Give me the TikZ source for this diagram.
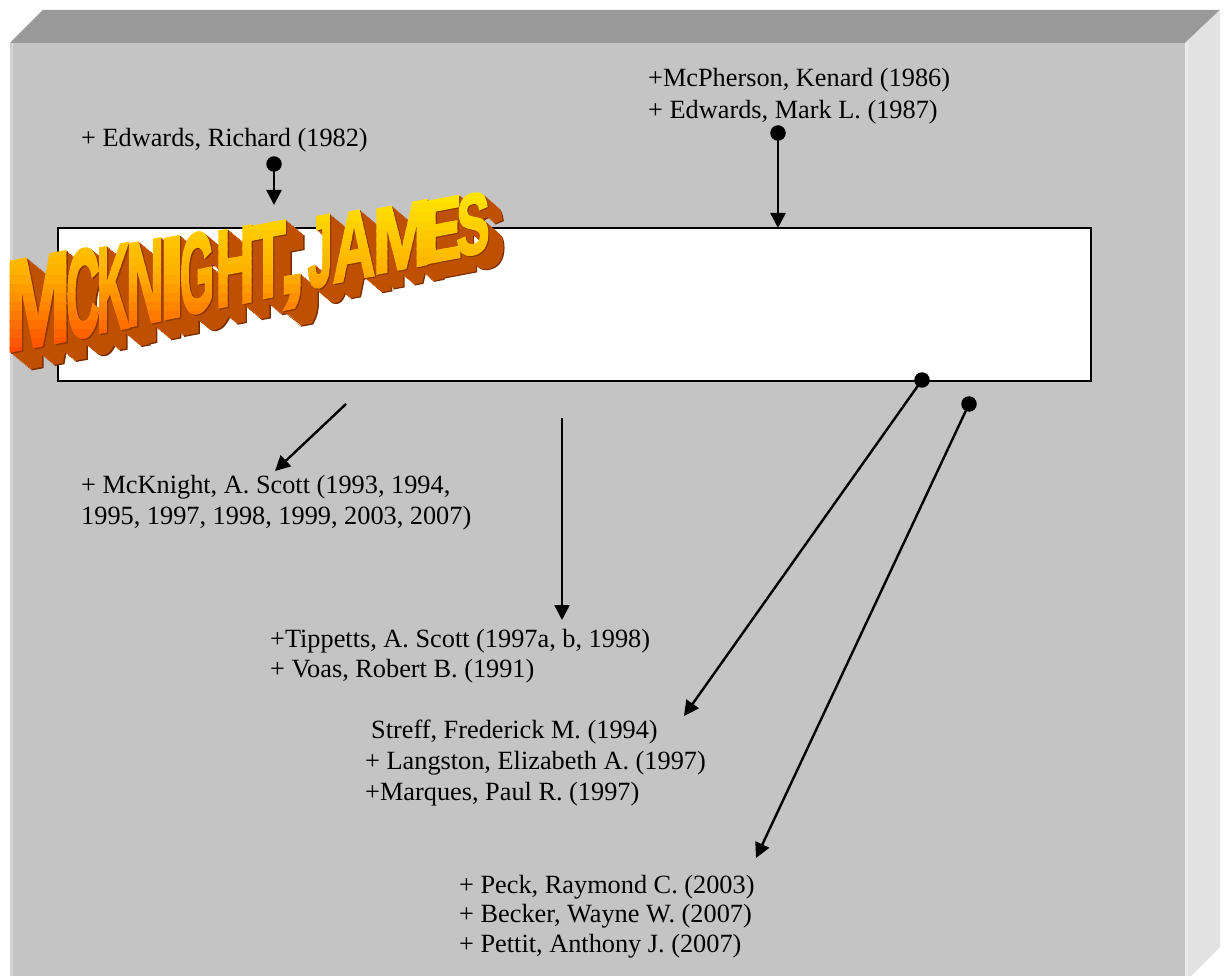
\documentclass[tikz,border=0pt]{standalone}
\usepackage{fontspec}
\setmainfont{Liberation Serif}
\newfontfamily\ttlfont{Liberation Sans}[BoldFeatures={FakeBold=3}]
\usetikzlibrary{arrows.meta}
\definecolor{frontgray}{HTML}{C4C4C4}
\definecolor{topgray}{HTML}{999999}
\definecolor{sidegray}{HTML}{E2E2E2}
\definecolor{edgelight}{HTML}{D2D2D2}
\definecolor{edgeside}{HTML}{EBEBEB}
\definecolor{extr}{HTML}{BE5000}
\definecolor{extrdark}{HTML}{7A2E00}
\definecolor{extredge}{HTML}{8E3800}
\definecolor{ttlyel}{HTML}{FFE800}
\definecolor{ttlmid}{HTML}{FFAE00}
\definecolor{ttlred}{HTML}{FF4000}
\tikzset{
  lbl/.style={anchor=base west, inner sep=0pt, font=\fontsize{26.3}{31}\selectfont},
  dotn/.style={circle, fill=black, inner sep=0pt, minimum size=15.5pt},
  arr/.style={line width=2.4pt, -{Triangle[length=15pt,width=15pt]}},
  mainbox/.style={draw=black, fill=white, line width=2pt, inner sep=0pt, anchor=north west},
  ttlletter/.style={anchor=base, inner sep=0pt, transform shape, font=\ttlfont\bfseries\fontsize{100}{100}\selectfont},
}
\def\ttlk{0}
% #1 centre x, #2 character, #3 target width, #4 natural width at 100pt, #5 style
\newcommand\ttlchar[5]{%
  \pgfmathsetmacro\tT{(#1-7)/483}%
  \pgfmathsetmacro\tS{(94-34*\tT)/71.6}%
  \pgfmathsetmacro\tB{352-102*\tT}%
  \pgfmathsetmacro\tX{0.9*#3/(#4*\tS)}%
  \pgfmathsetmacro\tDX{\ttlk*(22-6*\tT)}%
  \pgfmathsetmacro\tDY{\ttlk*(18-4*\tT)}%
  \begin{scope}[shift={(#1+\tDX,\tB+\tDY)}, yslant=0.19, xscale=\tX, scale=\tS]
    \node[ttlletter,#5] {#2};
  \end{scope}}
\newcommand\ttlword[1]{%
  \ttlchar{38}{M}{63}{73}{#1}%
  \ttlchar{83}{C}{33}{64}{#1}%
  \ttlchar{113}{K}{34}{68}{#1}%
  \ttlchar{145}{N}{36}{62}{#1}%
  \ttlchar{172}{I}{17}{17}{#1}%
  \ttlchar{197}{G}{33}{68}{#1}%
  \ttlchar{235}{H}{36}{60}{#1}%
  \ttlchar{268}{T}{37}{58}{#1}%
  \ttlchar{292}{,}{13}{12}{#1}%
  \ttlchar{320}{J}{23}{47}{#1}%
  \ttlchar{354}{A}{47}{72}{#1}%
  \ttlchar{402}{M}{57}{73}{#1}%
  \ttlchar{442}{E}{37}{56}{#1}%
  \ttlchar{473}{S}{33}{60}{#1}}
\begin{document}
\begin{tikzpicture}[x=1pt,y=-1pt]
  \useasboundingbox (0,0) rectangle (1224,976);
  \clip (0,0) rectangle (1224,976);
  % 3D board
  \fill[frontgray] (10,43) rectangle (1185,980);
  \fill[topgray] (10,43) -- (43,10) -- (1220,10) -- (1185,43) -- cycle;
  \fill[sidegray] (1185,43) -- (1220,10) -- (1220,947) -- (1185,982) -- cycle;
  \fill[edgelight] (10,43) rectangle (13,980);
  \fill[edgeside] (1185,43) rectangle (1188,980);
  % white box
  \node[mainbox, minimum width=1033pt, minimum height=153pt] (mainrect) at (57,227) {};
  % title extrusion
  \foreach \kk in {14,...,1} {
    \pgfmathsetmacro\ttlk{\kk/14}
    \ifnum\kk=14 \def\ttlcol{extrdark}\else
      \ifnum\kk=1 \def\ttlcol{extredge}\else \def\ttlcol{extr}\fi\fi
    \ttlword{text=\ttlcol}
  }
  % title front faces: vertical gradient built from clipped bands
  \foreach \bj in {0,...,19} {
    \pgfmathsetmacro\bya{186+\bj*9}
    \pgfmathsetmacro\byb{\bya+9.6}
    \pgfmathsetmacro\bpa{min(100,\bj*200/19)}
    \pgfmathsetmacro\bpb{max(0,\bj*200/19-100)}
    \colorlet{bandc}{ttlmid!\bpa!ttlyel}
    \colorlet{bandc}{ttlred!\bpb!bandc}
    \begin{scope}
      \clip (0,\bya) rectangle (530,\byb);
      \ttlword{text=bandc}
    \end{scope}
  }
  % labels
  \node[lbl] (edw) at (81,147) {+ Edwards, Richard (1982)};
  \node[lbl] (mcp1) at (648,87) {+McPherson, Kenard (1986)};
  \node[lbl] (mcp2) at (648,119) {+ Edwards, Mark L. (1987)};
  \node[lbl] (mck1) at (81,493) {+ McKnight, A. Scott (1993, 1994,};
  \node[lbl] (mck2) at (81,524) {1995, 1997, 1998, 1999, 2003, 2007)};
  \node[lbl] (tip1) at (270,647) {+Tippetts, A. Scott (1997a, b, 1998)};
  \node[lbl] (tip2) at (270,677) {+ Voas, Robert B. (1991)};
  \node[lbl] (str1) at (371,738) {Streff, Frederick M. (1994)};
  \node[lbl] (str2) at (365,769) {+ Langston, Elizabeth A. (1997)};
  \node[lbl] (str3) at (365,800) {+Marques, Paul R. (1997)};
  \node[lbl] (pk1) at (459,893) {+ Peck, Raymond C. (2003)};
  \node[lbl] (pk2) at (459,922) {+ Becker, Wayne W. (2007)};
  \node[lbl] (pk3) at (459,952) {+ Pettit, Anthony J. (2007)};
  % dots and arrow ends
  \node[dotn] (d1) at (274,164) {};
  \node[dotn] (d2) at (778,133) {};
  \node[dotn] (d5) at (922,380) {};
  \node[dotn] (d6) at (969,404) {};
  \coordinate (t1) at (274,205);
  \coordinate (t2) at (778,228);
  \coordinate (s3) at (346,404);
  \coordinate (t3) at (275,471);
  \coordinate (s4) at (562,418);
  \coordinate (t4) at (562,620);
  \coordinate (t5) at (684,716);
  \coordinate (t6) at (756,858);
  \draw[arr] (d1.center) -- (t1);
  \draw[arr] (d2.center) -- (t2);
  \draw[arr] (s3) -- (t3);
  \draw[arr] (s4) -- (t4);
  \draw[arr] (d5.center) -- (t5);
  \draw[arr] (d6.center) -- (t6);
\end{tikzpicture}
\end{document}
